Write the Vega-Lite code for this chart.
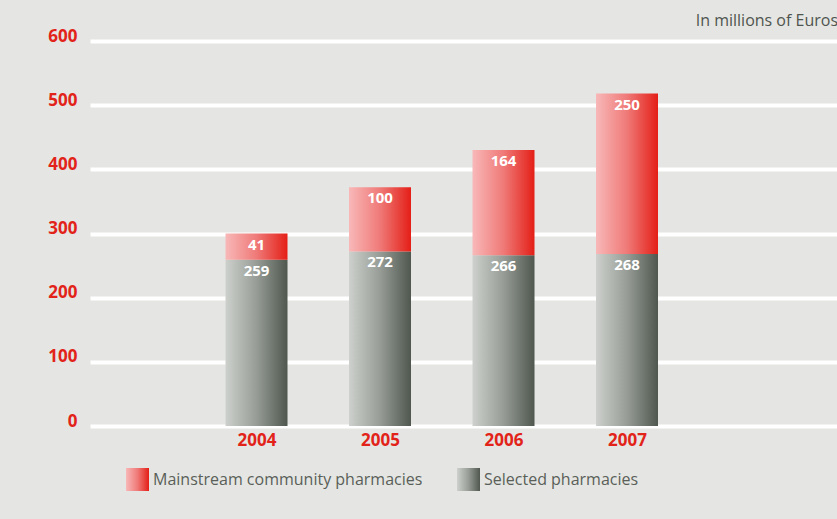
{
  "$schema": "https://vega.github.io/schema/vega-lite/v6.json",
  "width": 747,
  "height": 385,
  "autosize": {"type": "none"},
  "padding": {"left": 90, "top": 41, "right": 0, "bottom": 93},
  "background": "#e5e6e3",
  "title": {
    "text": "In millions of Euros",
    "anchor": "end",
    "frame": "group",
    "font": "Open Sans",
    "fontSize": 16,
    "fontWeight": "normal",
    "color": "#4f544f",
    "offset": -2,
    "dx": 1
  },
  "config": {
    "view": {"stroke": null},
    "font": "Open Sans"
  },
  "data": {
    "values": [
      {"year": 2004, "series": "Selected pharmacies", "value": 259},
      {"year": 2004, "series": "Mainstream community pharmacies", "value": 41},
      {"year": 2005, "series": "Selected pharmacies", "value": 272},
      {"year": 2005, "series": "Mainstream community pharmacies", "value": 100},
      {"year": 2006, "series": "Selected pharmacies", "value": 266},
      {"year": 2006, "series": "Mainstream community pharmacies", "value": 164},
      {"year": 2007, "series": "Selected pharmacies", "value": 268},
      {"year": 2007, "series": "Mainstream community pharmacies", "value": 250}
    ]
  },
  "transform": [
    {"stack": "value", "groupby": ["year"], "sort": [{"field": "series", "order": "descending"}], "as": ["y0", "y1"], "offset": "zero"}
  ],
  "encoding": {
    "x": {
      "field": "year",
      "type": "quantitative",
      "scale": {"domain": [2002.6518, 2008.7004], "nice": false, "zero": false, "padding": 0},
      "axis": {
        "title": null,
        "values": [2004, 2005, 2006, 2007],
        "format": "d",
        "grid": false,
        "domain": false,
        "ticks": false,
        "labelFont": "Open Sans",
        "labelFontSize": 17,
        "labelFontWeight": "bold",
        "labelColor": "#e2231a",
        "labelPadding": 6
      }
    },
    "y": {
      "field": "y1",
      "type": "quantitative",
      "scale": {"domain": [0, 600], "nice": false},
      "axis": {
        "title": null,
        "values": [0, 100, 200, 300, 400, 500, 600],
        "grid": true,
        "gridColor": "#ffffff",
        "gridWidth": 4,
        "gridOpacity": 1,
        "domain": false,
        "ticks": false,
        "labelFont": "Open Sans",
        "labelFontSize": 17,
        "labelFontWeight": "bold",
        "labelColor": "#e2231a",
        "labelBaseline": "alphabetic",
        "labelPadding": 13
      }
    }
  },
  "layer": [
    {
      "transform": [{"filter": "datum.series === 'Selected pharmacies'"}],
      "mark": {
        "type": "bar",
        "size": 62,
        "color": {"gradient": "linear", "x1": 0, "y1": 0, "x2": 1, "y2": 0,
                  "stops": [{"offset": 0, "color": "#cdd0cc"}, {"offset": 0.5, "color": "#979d96"}, {"offset": 1, "color": "#4f574f"}]}
      },
      "encoding": {"y2": {"field": "y0"}}
    },
    {
      "transform": [{"filter": "datum.series === 'Mainstream community pharmacies'"}],
      "mark": {
        "type": "bar",
        "size": 62,
        "color": {"gradient": "linear", "x1": 0, "y1": 0, "x2": 1, "y2": 0,
                  "stops": [{"offset": 0, "color": "#f8b8b8"}, {"offset": 0.5, "color": "#ef7a78"}, {"offset": 1, "color": "#e41f17"}]}
      },
      "encoding": {"y2": {"field": "y0"}}
    },
    {
      "mark": {
        "type": "point",
        "filled": true,
        "opacity": 0,
        "color": {"expr": "datum.value === 'Selected pharmacies' ? {gradient: 'linear', x1: 0, y1: 0, x2: 1, y2: 0, stops: [{offset: 0, color: '#cdd0cc'}, {offset: 0.5, color: '#979d96'}, {offset: 1, color: '#4f574f'}]} : {gradient: 'linear', x1: 0, y1: 0, x2: 1, y2: 0, stops: [{offset: 0, color: '#f8b8b8'}, {offset: 0.5, color: '#ef7a78'}, {offset: 1, color: '#e41f17'}]}"}
      },
      "encoding": {
        "shape": {
          "field": "series",
          "type": "nominal",
          "scale": {
            "domain": ["Mainstream community pharmacies", "Selected pharmacies"],
            "range": ["square", "square"]
          },
          "legend": {
            "title": null,
            "orient": "none",
            "legendX": 36,
            "legendY": 427,
            "direction": "horizontal",
            "padding": 0,
            "symbolSize": 529,
            "symbolStrokeWidth": 0,
            "symbolOpacity": 1,
            "labelFont": "Open Sans",
            "labelFontSize": 16,
            "labelColor": "#5a5f59",
            "labelOffset": 4,
            "labelLimit": 400,
            "columnPadding": 34
          }
        }
      }
    },
    {
      "mark": {
        "type": "text",
        "color": "#ffffff",
        "font": "Open Sans",
        "fontSize": 15,
        "fontWeight": "bold",
        "baseline": "middle",
        "dy": 11
      },
      "encoding": {
        "text": {"field": "value", "type": "quantitative"}
      }
    }
  ]
}
